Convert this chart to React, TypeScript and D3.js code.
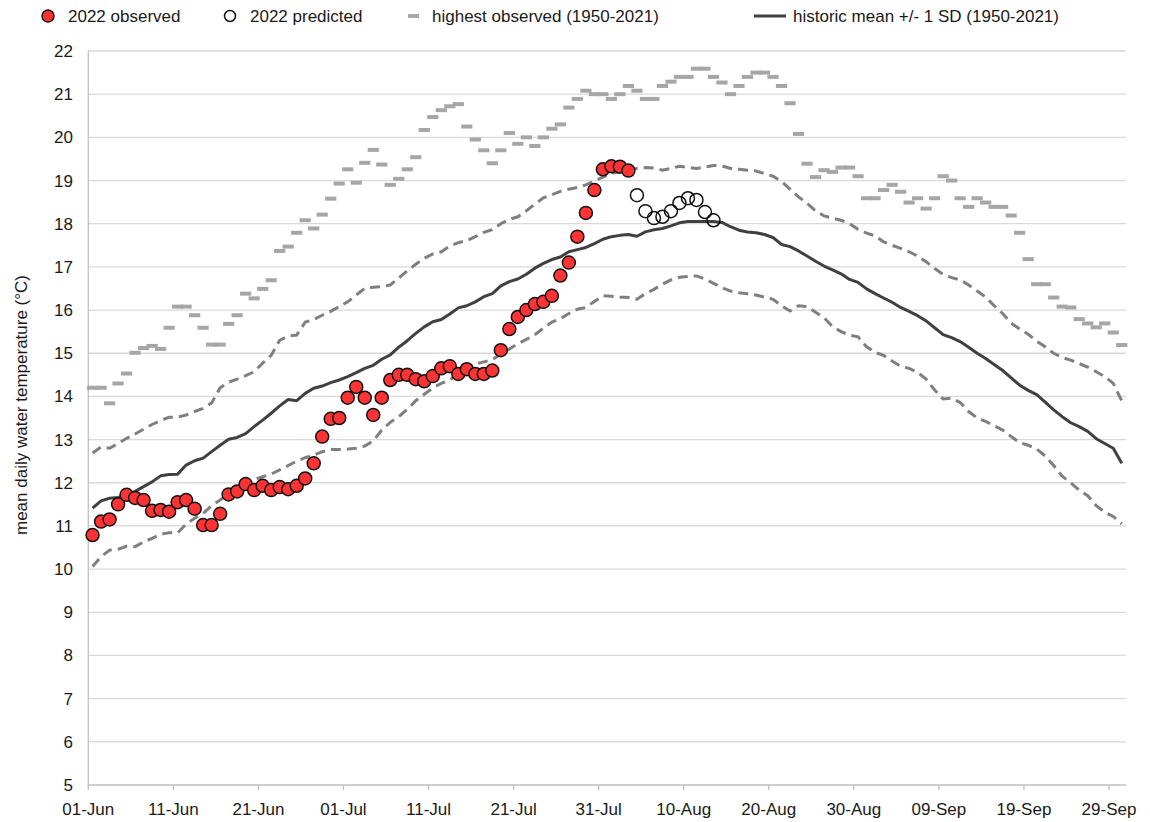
import React from 'react';
import * as d3 from 'd3';

// ---- data (day index 0 = 01-Jun) ----
const tickLabels = ['01-Jun', '11-Jun', '21-Jun', '01-Jul', '11-Jul', '21-Jul', '31-Jul', '10-Aug', '20-Aug', '30-Aug', '09-Sep', '19-Sep', '29-Sep'];
const tickDays = [0, 10, 20, 30, 40, 50, 60, 70, 80, 90, 100, 110, 120];
const yTicks = [5, 6, 7, 8, 9, 10, 11, 12, 13, 14, 15, 16, 17, 18, 19, 20, 21, 22];

const observed2022 = [10.79, 11.1, 11.15, 11.5, 11.72, 11.65, 11.6, 11.35, 11.37, 11.33,
  11.55, 11.6, 11.4, 11.02, 11.02, 11.28, 11.73, 11.8, 11.97, 11.83,
  11.93, 11.83, 11.9, 11.85, 11.93, 12.1, 12.45, 13.07, 13.48, 13.5,
  13.97, 14.22, 13.97, 13.57, 13.97, 14.38, 14.5, 14.5, 14.4, 14.35,
  14.47, 14.65, 14.7, 14.52, 14.63, 14.52, 14.52, 14.6, 15.07, 15.56,
  15.84, 16.0, 16.14, 16.19, 16.33, 16.8, 17.1, 17.7, 18.25, 18.78,
  19.26, 19.33, 19.32, 19.23];
const predictedStart = 64;
const predicted2022 = [18.66, 18.29, 18.13, 18.16, 18.29, 18.48, 18.59, 18.55, 18.27, 18.08];

const historicMean = [11.41, 11.58, 11.64, 11.66, 11.72, 11.8, 11.91, 12.02, 12.16, 12.19,
  12.2, 12.41, 12.51, 12.57, 12.72, 12.87, 13.01, 13.05, 13.14, 13.3,
  13.45, 13.61, 13.78, 13.93, 13.9, 14.07, 14.19, 14.24, 14.32, 14.38,
  14.46, 14.55, 14.65, 14.72, 14.86, 14.96, 15.14, 15.29, 15.46, 15.61,
  15.73, 15.78, 15.91, 16.05, 16.1, 16.19, 16.31, 16.38, 16.56, 16.66,
  16.72, 16.83, 16.97, 17.08, 17.17, 17.23, 17.35, 17.4, 17.45, 17.54,
  17.64, 17.7, 17.73, 17.75, 17.71, 17.81, 17.86, 17.89, 17.95, 18.02,
  18.05, 18.05, 18.05, 18.05, 18.03, 17.93, 17.85, 17.81, 17.79, 17.75,
  17.68, 17.52, 17.47, 17.37, 17.25, 17.13, 17.02, 16.93, 16.84, 16.71,
  16.64, 16.49, 16.38, 16.28, 16.18, 16.06, 15.97, 15.87, 15.75, 15.59,
  15.43, 15.36, 15.27, 15.14, 15.0, 14.88, 14.74, 14.6, 14.43, 14.26,
  14.14, 14.04, 13.87, 13.69, 13.53, 13.39, 13.3, 13.19, 13.02, 12.91,
  12.8, 12.45];

const meanPlusSD = [12.69, 12.83, 12.8, 12.91, 13.03, 13.13, 13.24, 13.35, 13.44, 13.52,
  13.52, 13.57, 13.65, 13.72, 13.85, 14.2, 14.33, 14.4, 14.48, 14.57,
  14.77, 14.95, 15.3, 15.4, 15.42, 15.72, 15.78, 15.88, 15.97, 16.08,
  16.19, 16.35, 16.5, 16.53, 16.54, 16.58, 16.74, 16.91, 17.06, 17.2,
  17.3, 17.35, 17.48, 17.56, 17.61, 17.7, 17.8, 17.86, 18.0, 18.1,
  18.16, 18.3, 18.45, 18.6, 18.67, 18.75, 18.8, 18.84, 18.9, 18.99,
  19.08, 19.17, 19.2, 19.22, 19.28, 19.3, 19.29, 19.24, 19.28, 19.33,
  19.3, 19.28, 19.31, 19.35, 19.34, 19.28, 19.26, 19.24, 19.22, 19.16,
  19.1, 18.98, 18.8, 18.62, 18.47, 18.3, 18.18, 18.13, 18.08, 18.0,
  17.87, 17.78, 17.72, 17.58, 17.5, 17.43, 17.35, 17.25, 17.12, 16.96,
  16.83, 16.75, 16.7, 16.58, 16.44, 16.3, 16.1, 15.92, 15.7, 15.56,
  15.44, 15.28, 15.15, 15.0, 14.9, 14.84, 14.76, 14.68, 14.57, 14.46,
  14.3, 13.9];

const meanMinusSD = [10.06, 10.29, 10.44, 10.46, 10.53, 10.52, 10.63, 10.71, 10.81, 10.84,
  10.84, 11.04, 11.18, 11.29, 11.47, 11.6, 11.76, 11.85, 11.96, 12.08,
  12.14, 12.2, 12.3, 12.4, 12.5, 12.58, 12.64, 12.72, 12.77, 12.77,
  12.78, 12.8, 12.85, 12.97, 13.22, 13.4, 13.53, 13.7, 13.9, 14.05,
  14.2, 14.3, 14.38, 14.52, 14.65, 14.75, 14.8, 14.85, 14.98, 15.1,
  15.22, 15.32, 15.43, 15.58, 15.72, 15.8, 15.92, 16.02, 16.06, 16.2,
  16.33, 16.32, 16.3, 16.29, 16.25, 16.38, 16.48, 16.6, 16.7, 16.76,
  16.78, 16.79, 16.72, 16.62, 16.52, 16.44, 16.4, 16.38, 16.35, 16.3,
  16.25, 16.1, 15.98, 16.1, 16.08, 15.95, 15.82, 15.62, 15.5, 15.42,
  15.38, 15.15, 15.02, 14.95, 14.82, 14.7, 14.65, 14.56, 14.4, 14.15,
  13.94, 13.96, 13.86, 13.65, 13.5, 13.42, 13.32, 13.22, 13.07, 12.93,
  12.87, 12.78, 12.62, 12.4, 12.15, 12.0, 11.83, 11.7, 11.47, 11.32,
  11.22, 11.05];

const highestObserved = [14.2, 14.2, 13.84, 14.3, 14.53, 15.01, 15.12, 15.17, 15.1, 15.59,
  16.08, 16.08, 15.88, 15.59, 15.2, 15.2, 15.68, 15.88, 16.38, 16.27,
  16.49, 16.69, 17.37, 17.47, 17.79, 18.08, 17.89, 18.21, 18.58, 18.93,
  19.26, 18.95, 19.41, 19.71, 19.37, 18.9, 19.04, 19.26, 19.54, 20.17,
  20.47, 20.63, 20.72, 20.77, 20.25, 19.95, 19.7, 19.4, 19.7, 20.1,
  19.85, 20.0, 19.8, 20.0, 20.2, 20.3, 20.69, 20.89, 21.08, 21.0,
  21.0, 20.89, 21.0, 21.19, 21.08, 20.89, 20.89, 21.19, 21.29, 21.4,
  21.4, 21.59, 21.59, 21.4, 21.27, 21.0, 21.19, 21.4, 21.5, 21.5,
  21.4, 21.19, 20.79, 20.08, 19.39, 19.08, 19.24, 19.2, 19.3, 19.3,
  19.1, 18.59, 18.59, 18.78, 18.9, 18.74, 18.49, 18.59, 18.35, 18.59,
  19.1, 19.0, 18.59, 18.39, 18.59, 18.49, 18.39, 18.39, 18.19, 17.79,
  17.18, 16.6, 16.6, 16.29, 16.08, 16.06, 15.79, 15.69, 15.6, 15.69,
  15.48, 15.19];

const FONT = '"Liberation Sans", Arial, Helvetica, sans-serif';

export default function App() {
  const width = 1150;
  const height = 822;
  const x = d3.scaleLinear().domain([0, 122]).range([88.3, 1126]);
  const y = d3.scaleLinear().domain([5, 22]).range([785, 51]);
  const cx = (d: number) => x(d + 0.5);

  const line = d3.line<number>().x((_, i) => cx(i)).y((v) => y(v));

  const obsPts = observed2022.map((v, i) => ({ d: i, v }));
  const predPts = predicted2022.map((v, i) => ({ d: predictedStart + i, v }));

  return (
    <svg width={width} height={height} style={{ position: 'absolute', left: 0, top: 0, background: '#fff' }} fontFamily={FONT}>
      <rect x={0} y={0} width={width} height={height} fill="#fff" />
      {/* gridlines */}
      {yTicks.slice(1).map((t) => (
        <line key={'g' + t} x1={x(0)} x2={x(122)} y1={y(t)} y2={y(t)} stroke="#d9d9d9" strokeWidth={1.3} />
      ))}
      {/* axes */}
      <line x1={x(0)} x2={x(0)} y1={y(22)} y2={y(5)} stroke="#bfbfbf" strokeWidth={1.3} />
      <line x1={x(0)} x2={x(122)} y1={y(5)} y2={y(5)} stroke="#bfbfbf" strokeWidth={1.3} />
      {tickDays.map((d) => (
        <line key={'t' + d} x1={x(d)} x2={x(d)} y1={y(5)} y2={y(5) + 5} stroke="#bfbfbf" strokeWidth={1.3} />
      ))}
      {/* y tick labels */}
      {yTicks.map((t) => (
        <text key={'yl' + t} x={73} y={y(t) + 6} textAnchor="end" fontSize={17} fill="#1a1a1a">{t}</text>
      ))}
      {/* x tick labels */}
      {tickDays.map((d, i) => (
        <text key={'xl' + d} x={x(d)} y={815} textAnchor="middle" fontSize={17} fill="#1a1a1a">{tickLabels[i]}</text>
      ))}
      {/* y axis title */}
      <text transform={`translate(27,405) rotate(-90)`} textAnchor="middle" fontSize={17} fill="#1a1a1a">mean daily water temperature (°C)</text>

      {/* highest observed dashes */}
      {highestObserved.map((v, i) => (
        <rect key={'h' + i} x={cx(i) - 5.6} y={y(v) - 2} width={11.2} height={4} fill="#a6a6a6" />
      ))}
      {/* mean +/- SD */}
      <path d={line(meanPlusSD) || ''} fill="none" stroke="#7f7f7f" strokeWidth={3} strokeDasharray="10,6" />
      <path d={line(meanMinusSD) || ''} fill="none" stroke="#7f7f7f" strokeWidth={3} strokeDasharray="10,6" />
      <path d={line(historicMean) || ''} fill="none" stroke="#404040" strokeWidth={3} strokeLinejoin="round" />

      {/* 2022 observed */}
      {obsPts.map((p) => (
        <circle key={'o' + p.d} cx={cx(p.d)} cy={y(p.v)} r={6.5} fill="#ff3333" stroke="#111" strokeWidth={1.5} />
      ))}
      {/* 2022 predicted */}
      {predPts.map((p) => (
        <circle key={'p' + p.d} cx={cx(p.d)} cy={y(p.v)} r={6.5} fill="none" stroke="#111" strokeWidth={1.5} />
      ))}

      {/* legend */}
      <g fontSize={17} fill="#1a1a1a">
        <circle cx={48} cy={16} r={6} fill="#ff3333" stroke="#111" strokeWidth={1.5} />
        <text x={68} y={22}>2022 observed</text>
        <circle cx={230} cy={16} r={5.5} fill="none" stroke="#111" strokeWidth={1.5} />
        <text x={250} y={22}>2022 predicted</text>
        <rect x={408} y={14} width={11} height={4} fill="#a6a6a6" />
        <text x={432} y={22}>highest observed (1950-2021)</text>
        <line x1={754} x2={786} y1={16} y2={16} stroke="#404040" strokeWidth={3} />
        <text x={793} y={22}>historic mean +/- 1 SD (1950-2021)</text>
      </g>
    </svg>
  );
}
